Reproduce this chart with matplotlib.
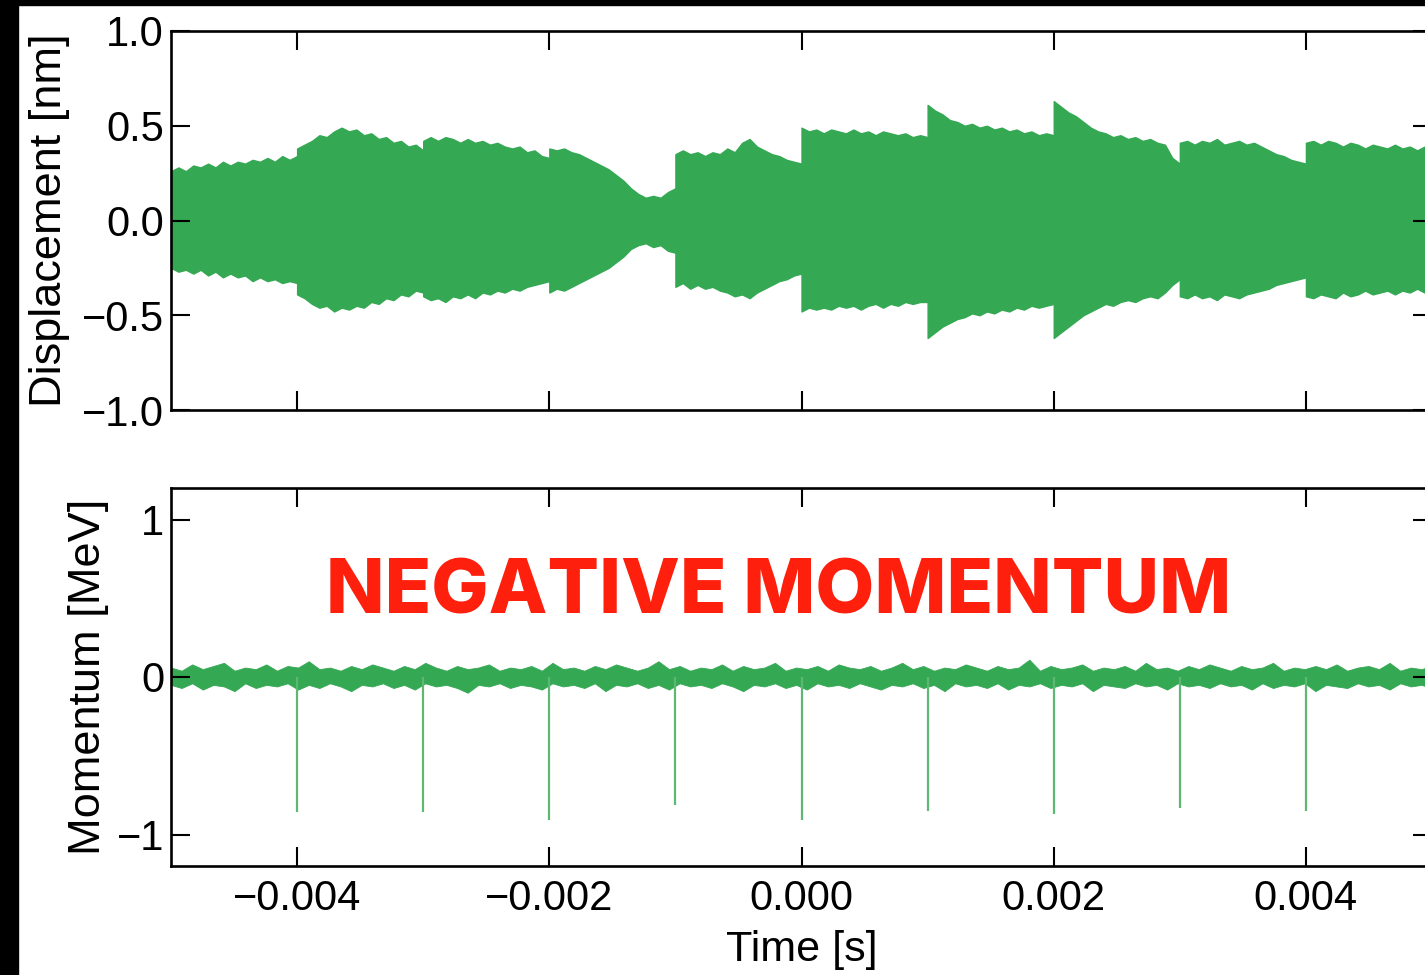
import matplotlib.pyplot as plt
import numpy as np
from matplotlib.patches import Rectangle

plt.rcParams['font.family'] = ['Liberation Sans', 'DejaVu Sans']

# displacement envelope, one list per 1 ms segment (kicks at the segment edges)
seg_edges = [-0.005, -0.004, -0.003, -0.002, -0.001, 0.0, 0.001, 0.002, 0.003, 0.004, 0.005]
upper_env = [
    [0.26, 0.28, 0.26, 0.29, 0.28, 0.30, 0.28, 0.31, 0.29, 0.31, 0.30, 0.32, 0.31, 0.33, 0.31, 0.34, 0.32, 0.34],
    [0.38, 0.40, 0.42, 0.45, 0.44, 0.47, 0.49, 0.47, 0.48, 0.45, 0.46, 0.43, 0.44, 0.41, 0.42, 0.39, 0.40, 0.37],
    [0.42, 0.44, 0.42, 0.44, 0.43, 0.41, 0.43, 0.41, 0.42, 0.40, 0.41, 0.39, 0.38, 0.39, 0.36, 0.37, 0.34, 0.33],
    [0.38, 0.37, 0.38, 0.36, 0.35, 0.33, 0.31, 0.29, 0.27, 0.24, 0.21, 0.17, 0.14, 0.12, 0.13, 0.12, 0.15, 0.17],
    [0.35, 0.37, 0.35, 0.36, 0.34, 0.36, 0.35, 0.38, 0.36, 0.41, 0.43, 0.39, 0.37, 0.35, 0.34, 0.32, 0.31, 0.30],
    [0.49, 0.47, 0.48, 0.46, 0.48, 0.47, 0.46, 0.48, 0.46, 0.47, 0.45, 0.47, 0.46, 0.45, 0.46, 0.44, 0.45, 0.44],
    [0.61, 0.58, 0.56, 0.53, 0.52, 0.50, 0.51, 0.49, 0.50, 0.48, 0.49, 0.47, 0.48, 0.46, 0.47, 0.45, 0.46, 0.45],
    [0.63, 0.60, 0.57, 0.55, 0.52, 0.49, 0.47, 0.46, 0.44, 0.45, 0.43, 0.44, 0.42, 0.43, 0.41, 0.40, 0.33, 0.30],
    [0.41, 0.42, 0.40, 0.42, 0.41, 0.43, 0.40, 0.41, 0.42, 0.40, 0.41, 0.39, 0.37, 0.35, 0.34, 0.32, 0.31, 0.30],
    [0.41, 0.42, 0.40, 0.42, 0.41, 0.39, 0.41, 0.40, 0.38, 0.40, 0.39, 0.38, 0.40, 0.38, 0.39, 0.37, 0.39, 0.38],
]
lower_env = [
    [-0.25, -0.27, -0.26, -0.28, -0.26, -0.29, -0.27, -0.30, -0.28, -0.30, -0.29, -0.32, -0.30, -0.32, -0.31, -0.33, -0.32, -0.33],
    [-0.39, -0.41, -0.44, -0.46, -0.45, -0.48, -0.46, -0.47, -0.45, -0.46, -0.43, -0.44, -0.41, -0.42, -0.39, -0.40, -0.37, -0.38],
    [-0.40, -0.42, -0.41, -0.43, -0.40, -0.41, -0.39, -0.41, -0.38, -0.39, -0.37, -0.38, -0.36, -0.37, -0.35, -0.34, -0.33, -0.32],
    [-0.38, -0.36, -0.37, -0.35, -0.33, -0.31, -0.29, -0.27, -0.25, -0.22, -0.19, -0.15, -0.13, -0.12, -0.14, -0.13, -0.16, -0.17],
    [-0.35, -0.33, -0.36, -0.34, -0.36, -0.35, -0.37, -0.38, -0.40, -0.39, -0.41, -0.38, -0.36, -0.34, -0.32, -0.31, -0.29, -0.28],
    [-0.48, -0.46, -0.47, -0.46, -0.47, -0.45, -0.46, -0.45, -0.47, -0.45, -0.44, -0.46, -0.44, -0.45, -0.43, -0.44, -0.43, -0.43],
    [-0.62, -0.59, -0.56, -0.54, -0.52, -0.51, -0.49, -0.50, -0.48, -0.49, -0.47, -0.48, -0.46, -0.47, -0.45, -0.46, -0.45, -0.44],
    [-0.62, -0.59, -0.56, -0.53, -0.50, -0.48, -0.46, -0.44, -0.45, -0.43, -0.42, -0.43, -0.41, -0.40, -0.41, -0.38, -0.34, -0.31],
    [-0.40, -0.41, -0.39, -0.41, -0.40, -0.42, -0.39, -0.40, -0.41, -0.39, -0.38, -0.37, -0.36, -0.34, -0.33, -0.32, -0.31, -0.30],
    [-0.40, -0.41, -0.39, -0.40, -0.41, -0.38, -0.40, -0.39, -0.37, -0.39, -0.38, -0.37, -0.39, -0.37, -0.38, -0.36, -0.38, -0.37],
]

# momentum: noise band around zero and the kicks
band_top = [0.06, 0.04, 0.08, 0.05, 0.07, 0.09, 0.04, 0.06, 0.05, 0.08,
            0.04, 0.07, 0.06, 0.10, 0.05, 0.06, 0.04, 0.07, 0.05, 0.08,
            0.06, 0.04, 0.07, 0.05, 0.09, 0.06, 0.04, 0.07, 0.05, 0.06,
            0.08, 0.04, 0.06, 0.05, 0.07, 0.04, 0.09, 0.05, 0.06, 0.04,
            0.07, 0.05, 0.08, 0.06, 0.04, 0.06, 0.10, 0.05, 0.07, 0.04,
            0.06, 0.05, 0.08, 0.04, 0.07, 0.05, 0.06, 0.09, 0.04, 0.06,
            0.05, 0.07, 0.04, 0.08, 0.06, 0.05, 0.07, 0.04, 0.06, 0.09,
            0.05, 0.07, 0.04, 0.06, 0.05, 0.08, 0.06, 0.04, 0.07, 0.05,
            0.06, 0.11, 0.04, 0.07, 0.05, 0.06, 0.08, 0.04, 0.06, 0.05,
            0.07, 0.04, 0.09, 0.05, 0.06, 0.04, 0.07, 0.05, 0.08, 0.06,
            0.04, 0.07, 0.05, 0.06, 0.09, 0.04, 0.06, 0.05, 0.07, 0.05,
            0.08, 0.04, 0.06, 0.07, 0.05, 0.09, 0.04, 0.06, 0.05, 0.07]
band_bot = [-0.05, -0.07, -0.04, -0.08, -0.05, -0.06, -0.09, -0.04, -0.07, -0.05,
            -0.06, -0.04, -0.08, -0.05, -0.07, -0.04, -0.06, -0.09, -0.05, -0.06,
            -0.04, -0.07, -0.05, -0.08, -0.04, -0.06, -0.05, -0.07, -0.10, -0.05,
            -0.06, -0.04, -0.07, -0.05, -0.06, -0.08, -0.04, -0.06, -0.05, -0.07,
            -0.04, -0.09, -0.05, -0.06, -0.04, -0.07, -0.05, -0.08, -0.04, -0.06,
            -0.05, -0.07, -0.04, -0.06, -0.09, -0.05, -0.06, -0.04, -0.07, -0.05,
            -0.08, -0.04, -0.06, -0.05, -0.07, -0.04, -0.06, -0.08, -0.05, -0.06,
            -0.04, -0.07, -0.05, -0.09, -0.04, -0.06, -0.05, -0.07, -0.04, -0.08,
            -0.05, -0.06, -0.04, -0.07, -0.05, -0.06, -0.04, -0.09, -0.05, -0.06,
            -0.07, -0.04, -0.06, -0.05, -0.08, -0.04, -0.06, -0.05, -0.07, -0.04,
            -0.06, -0.05, -0.08, -0.04, -0.07, -0.05, -0.06, -0.04, -0.09, -0.05,
            -0.06, -0.07, -0.04, -0.06, -0.05, -0.08, -0.04, -0.06, -0.05, -0.07]
spike_t = [-0.004, -0.003, -0.002, -0.001, 0.0, 0.001, 0.002, 0.003, 0.004]
spike_depth = [-0.86, -0.86, -0.91, -0.81, -0.91, -0.85, -0.87, -0.83, -0.85]

xticks = [-0.004, -0.002, 0.0, 0.002, 0.004]
xtick_labels = ['\u22120.004', '\u22120.002', '0.000', '0.002', '0.004']
top_yticks = [1.0, 0.5, 0.0, -0.5, -1.0]
top_ylabels = ['1.0', '0.5', '0.0', '\u22120.5', '\u22121.0']
bot_yticks = [1, 0, -1]
bot_ylabels = ['1', '0', '\u22121']

green = '#34a853'
spike_green = '#5cb872'

fig = plt.figure(figsize=(14.25, 9.75), dpi=100)
fig.patch.set_facecolor('white')

ax1 = fig.add_axes([171 / 1425, 1 - 410 / 975, 1261 / 1425, 379 / 975])
ax2 = fig.add_axes([171 / 1425, 1 - 866 / 975, 1261 / 1425, 378 / 975])

for i in range(len(upper_env)):
    t = np.linspace(seg_edges[i] + 1e-7, seg_edges[i + 1] - 1e-7, len(upper_env[i]))
    ax1.fill_between(t, lower_env[i], upper_env[i], color=green, linewidth=1.0, edgecolor=green)

tb = np.linspace(-0.005, 0.005, len(band_top))
ax2.fill_between(tb, band_bot, band_top, color=green, linewidth=0.6, edgecolor=green)
ax2.vlines(spike_t, spike_depth, 0, color=spike_green, linewidth=1.6)

for ax in (ax1, ax2):
    ax.set_xlim(-0.005, 0.005)
    ax.set_xticks(xticks)
    for s in ax.spines.values():
        s.set_linewidth(1.9)
    ax.tick_params(direction='in', length=14, width=1.5, top=True, right=True,
                   labelsize=30, pad=5)

ax1.set_ylim(-1.0, 1.0)
ax1.set_yticks(top_yticks)
ax1.set_yticklabels(top_ylabels)
ax1.tick_params(labelbottom=False)
ax1.set_ylabel('Displacement [nm]', fontsize=32.5)
ax1.yaxis.set_label_coords(-0.080, 0.5)

ax2.set_ylim(-1.2, 1.2)
ax2.set_yticks(bot_yticks)
ax2.set_yticklabels(bot_ylabels)
ax2.set_xticklabels(xtick_labels)
ax2.tick_params(axis='x', pad=9)
ax2.set_xlabel('Time [s]', fontsize=31, labelpad=8)
ax2.set_ylabel('Momentum [MeV]', fontsize=32.5)
ax2.yaxis.set_label_coords(-0.049, 0.5)

fig.text(779 / 1425, 1 - 613 / 975, 'NEGATIVE MOMENTUM', color='#fe1f0c',
         fontsize=55, fontweight='heavy', family=['Inter', 'DejaVu Sans'],
         ha='center', va='baseline')

# black frame strips on the left and top
fig.patches.append(Rectangle((0, 0), 18 / 1425, 1, transform=fig.transFigure,
                             color='black', zorder=10))
fig.patches.append(Rectangle((0, 1 - 5 / 975), 1, 5 / 975, transform=fig.transFigure,
                             color='black', zorder=10))

fig.savefig('out.png', dpi=100)
